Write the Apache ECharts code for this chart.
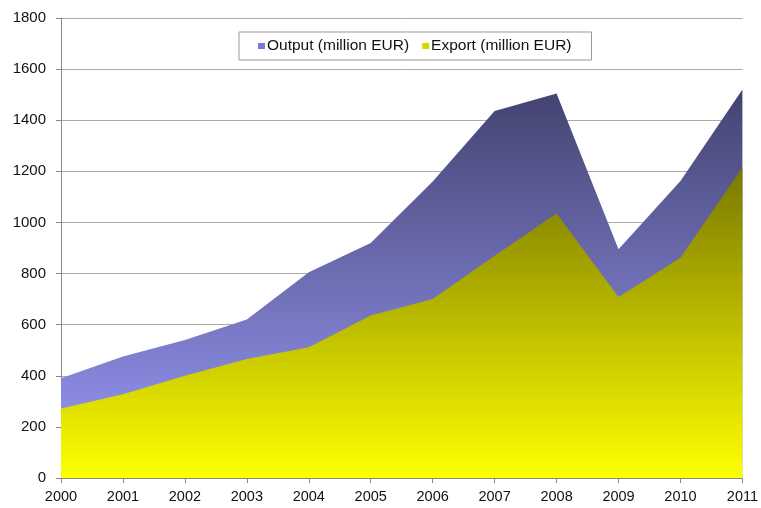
<!DOCTYPE html>
<html>
<head>
<meta charset="utf-8">
<script src="https://cdn.jsdelivr.net/npm/echarts@6/dist/echarts.min.js"></script>
<style>
html,body{margin:0;padding:0;background:#fff;}
#chart{width:761px;height:508px;}
</style>
</head>
<body>
<div id="chart"></div>
<script>
const years = ['2000','2001','2002','2003','2004','2005','2006','2007','2008','2009','2010','2011'];
const outputValues = [390, 475, 540, 620, 805, 920, 1160, 1436, 1505, 895, 1162, 1520];
const exportValues = [272, 328, 400, 466, 512, 636, 700, 870, 1035, 708, 862, 1215];
const outputName = 'Output (million EUR)';
const exportName = 'Export (million EUR)';

const chart = echarts.init(document.getElementById('chart'), null, {renderer:'canvas'});
const font = 'Liberation Sans, Arial, sans-serif';
chart.setOption({
  animation: false,
  backgroundColor: '#ffffff',
  grid: {left: 61, right: 18, top: 18, bottom: 30, containLabel: false},
  legend: {
    left: 239, top: 32,
    padding: [6, 20, 6, 19],
    itemGap: 13,
    borderColor: '#999', borderWidth: 1, borderRadius: 0,
    backgroundColor: '#fff',
    icon: 'rect', itemWidth: 7, itemHeight: 6,
    textStyle: {fontFamily: font, fontSize: 15.5, color: '#111', padding: [0,0,0,-3]},
    data: [
      {name: outputName, itemStyle: {color: '#7b7bd6'}},
      {name: exportName, itemStyle: {color: '#d6d600'}}
    ]
  },
  xAxis: {
    type: 'category', data: years, boundaryGap: false,
    axisLine: {lineStyle: {color: '#888', width: 1}},
    axisTick: {show: true, length: 5, lineStyle: {color: '#888'}},
    axisLabel: {fontFamily: font, fontSize: 14.5, color: '#111', margin: 11, interval: 0},
    splitLine: {show: false}
  },
  yAxis: {
    type: 'value', min: 0, max: 1800, interval: 200,
    axisLine: {show: true, lineStyle: {color: '#888', width: 1}},
    axisTick: {show: true, length: 5, lineStyle: {color: '#888'}},
    axisLabel: {fontFamily: font, fontSize: 15, color: '#111', margin: 15, formatter: function (v) { return String(v); }},
    splitLine: {show: true, lineStyle: {color: '#aaa', width: 1}}
  },
  series: [
    {
      name: outputName, type: 'line', data: outputValues,
      showSymbol: false, symbol: 'none',
      lineStyle: {width: 0},
      itemStyle: {color: '#7b7bd6'},
      areaStyle: {opacity: 1, color: new echarts.graphic.LinearGradient(0,0,0,1,[
        {offset: 0, color: '#434370'},
        {offset: 1, color: '#9b9bfc'}
      ])},
      z: 2
    },
    {
      name: exportName, type: 'line', data: exportValues,
      showSymbol: false, symbol: 'none',
      lineStyle: {width: 0},
      itemStyle: {color: '#d6d600'},
      areaStyle: {opacity: 1, color: new echarts.graphic.LinearGradient(0,0,0,1,[
        {offset: 0, color: '#787800'},
        {offset: 1, color: '#ffff00'}
      ])},
      z: 3
    }
  ]
});
</script>
</body>
</html>
